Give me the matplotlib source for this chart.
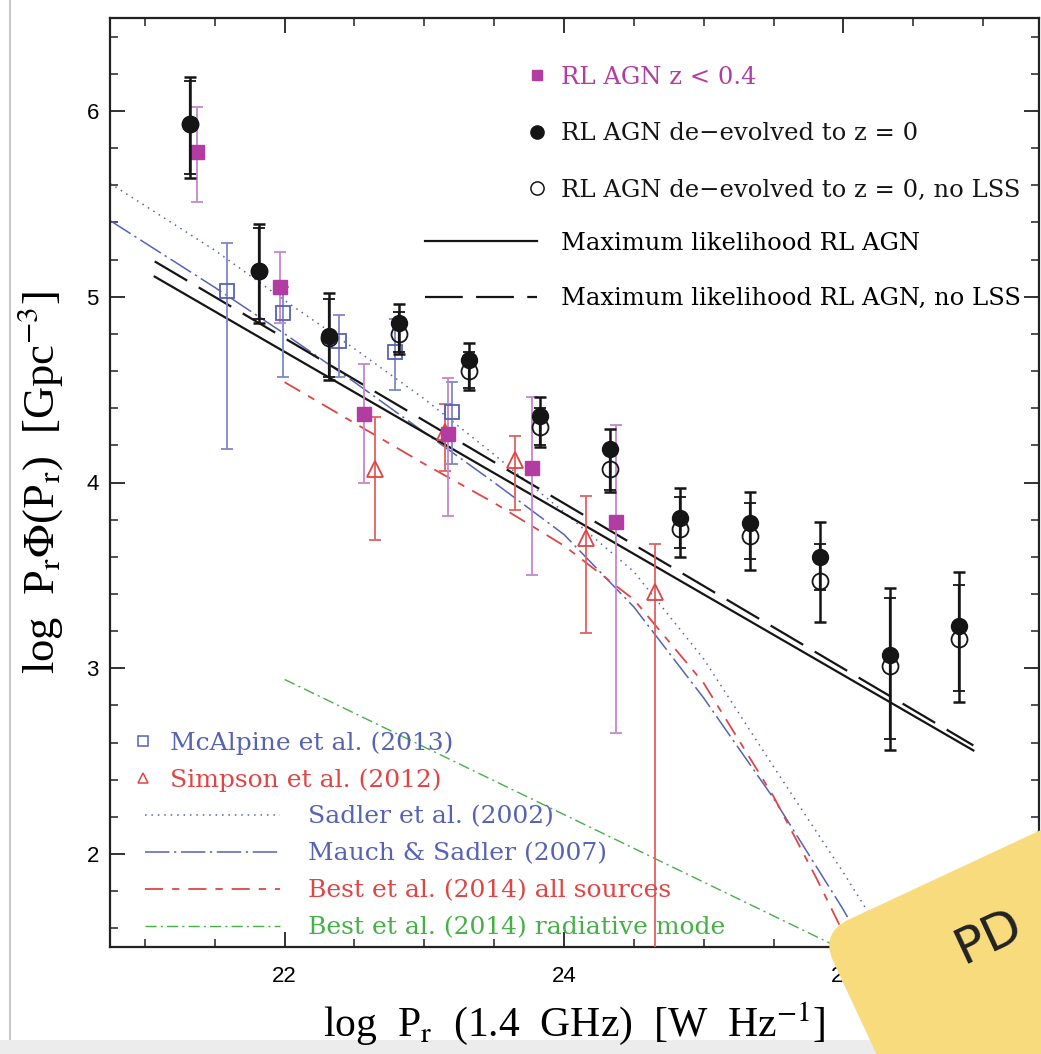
import matplotlib
matplotlib.use('Agg')
import matplotlib.pyplot as plt
import matplotlib.transforms as mtransforms
import numpy as np
from matplotlib.lines import Line2D
from matplotlib.patches import FancyBboxPatch, Rectangle
from matplotlib.ticker import MultipleLocator

plt.rcParams['mathtext.fontset'] = 'stix'

# RL AGN de-evolved to z = 0 (filled) and the no-LSS version (open)
x_rl = [21.32, 21.82, 22.32, 22.82, 23.32, 23.83, 24.33, 24.83, 25.33, 25.83, 26.33, 26.83]
y_rl = [5.93, 5.14, 4.79, 4.86, 4.66, 4.36, 4.18, 3.81, 3.78, 3.60, 3.07, 3.23]
y_rl_lo = [5.64, 4.86, 4.55, 4.69, 4.50, 4.19, 3.95, 3.60, 3.53, 3.25, 2.56, 2.82]
y_rl_hi = [6.18, 5.39, 5.02, 4.96, 4.75, 4.46, 4.29, 3.97, 3.95, 3.79, 3.43, 3.52]

y_nolss = [5.93, 5.14, 4.78, 4.80, 4.60, 4.30, 4.07, 3.75, 3.71, 3.47, 3.01, 3.16]
y_nolss_lo = [5.66, 4.88, 4.57, 4.70, 4.51, 4.20, 3.96, 3.65, 3.59, 3.42, 2.62, 2.88]
y_nolss_hi = [6.16, 5.37, 4.99, 4.92, 4.70, 4.40, 4.20, 3.92, 3.89, 3.67, 3.38, 3.45]

# RL AGN z < 0.4
x_z04 = [21.37, 21.97, 22.57, 23.17, 23.77, 24.37]
y_z04 = [5.78, 5.05, 4.37, 4.26, 4.08, 3.79]
y_z04_lo = [5.51, 4.86, 4.00, 3.82, 3.50, 2.65]
y_z04_hi = [6.02, 5.24, 4.64, 4.56, 4.46, 4.31]

# McAlpine et al. (2013)
x_mca = [21.59, 21.99, 22.39, 22.79, 23.20]
y_mca = [5.03, 4.91, 4.76, 4.70, 4.38]
y_mca_lo = [4.18, 4.57, 4.57, 4.50, 4.10]
y_mca_hi = [5.29, 5.05, 4.90, 4.88, 4.54]

# Simpson et al. (2012)
x_sim = [22.65, 23.15, 23.65, 24.16, 24.65]
y_sim = [4.07, 4.27, 4.12, 3.70, 3.41]
y_sim_lo = [3.69, 4.06, 3.85, 3.19, 1.00]
y_sim_hi = [4.35, 4.42, 4.25, 3.93, 3.67]

# model curves
x_ml = [21.07, 26.93]
y_ml = [5.108, 2.558]
y_ml_nolss = [5.19, 2.585]

x_sad = [20.75, 21.5, 22.0, 22.5, 23.0, 23.5, 24.0, 24.5, 25.0, 25.5, 26.0, 26.2, 26.35]
y_sad = [5.61, 5.25, 4.98, 4.72, 4.45, 4.15, 3.84, 3.52, 3.05, 2.47, 1.90, 1.66, 1.50]

x_mau = [20.75, 21.5, 22.0, 22.5, 23.0, 23.5, 24.0, 24.5, 25.0, 25.5, 26.0, 26.15]
y_mau = [5.41, 5.05, 4.80, 4.54, 4.27, 4.00, 3.72, 3.33, 2.84, 2.30, 1.70, 1.50]

x_best = [22.0, 22.5, 23.0, 23.5, 24.0, 24.5, 25.0, 25.5, 25.8, 26.05]
y_best = [4.54, 4.32, 4.10, 3.89, 3.66, 3.37, 2.92, 2.31, 1.88, 1.50]

x_rad = [22.0, 25.96]
y_rad = [2.94, 1.50]

c_mag = '#b23ca2'
c_mag_err = '#c587cc'
c_blue = '#5662b4'
c_blue_err = '#7f88c8'
c_red = '#e04444'
c_red_err = '#e26060'
c_green = '#45b045'
c_blk = '#151515'

W, H = 1041, 1054
fig = plt.figure(figsize=(W / 100, H / 100), dpi=100)
ax = fig.add_axes([110 / W, (H - 947) / H, 929 / W, 929 / H])

# lines
ax.plot(x_sad, y_sad, color=c_blue, lw=1.1, dashes=(1, 3.2))
ax.plot(x_mau, y_mau, color=c_blue, lw=1.1, dashes=(16, 3, 1.5, 3))
ax.plot(x_best, y_best, color=c_red, lw=1.3, dashes=(10, 5, 4, 5))
ax.plot(x_rad, y_rad, color=c_green, lw=1.0, dashes=(8, 3, 1.5, 3))
ax.plot(x_ml, y_ml, color=c_blk, lw=1.6)
ax.plot(x_ml, y_ml_nolss, color=c_blk, lw=1.6, dashes=(17, 6))

def yerr(y, lo, hi):
    y = np.array(y)
    return [y - np.array(lo), np.array(hi) - y]

ax.errorbar(x_mca, y_mca, yerr=yerr(y_mca, y_mca_lo, y_mca_hi), fmt='s', ms=10,
            mfc='none', mec=c_blue, mew=1.3, ecolor=c_blue_err, elinewidth=1.3,
            capsize=4.5, capthick=1.3, zorder=4)
ax.errorbar(x_sim, y_sim, yerr=yerr(y_sim, y_sim_lo, y_sim_hi), fmt='^', ms=11,
            mfc='none', mec=c_red, mew=1.3, ecolor=c_red_err, elinewidth=1.3,
            capsize=4.5, capthick=1.3, zorder=4)
ax.errorbar(x_z04, y_z04, yerr=yerr(y_z04, y_z04_lo, y_z04_hi), fmt='s', ms=9.5,
            mfc=c_mag, mec=c_mag, ecolor=c_mag_err, elinewidth=1.3,
            capsize=4.5, capthick=1.3, zorder=4)
ax.errorbar(x_rl, y_nolss, yerr=yerr(y_nolss, y_nolss_lo, y_nolss_hi), fmt='o', ms=11.5,
            mfc='none', mec=c_blk, mew=1.3, ecolor=c_blk, elinewidth=1.6,
            capsize=4.5, capthick=1.6, zorder=5)
ax.errorbar(x_rl, y_rl, yerr=yerr(y_rl, y_rl_lo, y_rl_hi), fmt='o', ms=11.5,
            mfc=c_blk, mec=c_blk, ecolor=c_blk, elinewidth=1.8,
            capsize=4.5, capthick=1.8, zorder=6)

ax.set_xlim(20.75, 27.4)
ax.set_ylim(1.5, 6.5)
ax.xaxis.set_major_locator(MultipleLocator(2))
ax.xaxis.set_minor_locator(MultipleLocator(0.5))
ax.yaxis.set_major_locator(MultipleLocator(1))
ax.yaxis.set_minor_locator(MultipleLocator(0.2))
ax.tick_params(which='both', direction='in', top=True, right=True, color='#222222')
ax.tick_params(which='major', length=11, width=1.3)
ax.tick_params(which='minor', length=5.5, width=1.1)
ax.tick_params(axis='x', which='major', pad=14)
ax.tick_params(axis='y', which='major', pad=8)
for lab in ax.get_xticklabels() + ax.get_yticklabels():
    lab.set_fontfamily('Liberation Sans')
    lab.set_fontsize(16)
for sp in ax.spines.values():
    sp.set_linewidth(1.6)
    sp.set_color('#222222')

ax.set_xlabel('log  P$_{\\rm r}$  (1.4  GHz)  [W  Hz$^{-1}$]', fontsize=30,
              family='Liberation Serif')
ax.xaxis.set_label_coords(0.5, -0.057)
ax.set_ylabel('log  P$_{\\rm r}$$\\Phi$(P$_{\\rm r}$)  [Gpc$^{-3}$]', fontsize=32,
              family='Liberation Serif')
ax.yaxis.set_label_coords(-0.048, 0.5)

# legends
fs_up = 17.5
fs_lo = 18
leg_font = {'family': 'DejaVu Serif', 'size': fs_up}
h_up_mark = [
    Line2D([], [], ls='none', marker='s', ms=7, mfc=c_mag, mec=c_mag),
    Line2D([], [], ls='none', marker='o', ms=9.5, mfc=c_blk, mec=c_blk),
    Line2D([], [], ls='none', marker='o', ms=9.5, mfc='none', mec=c_blk, mew=1.1),
]
lab_up_mark = ['RL AGN z < 0.4', 'RL AGN de\u2212evolved to z = 0',
               'RL AGN de\u2212evolved to z = 0, no LSS']
leg1 = ax.legend(h_up_mark, lab_up_mark, loc='upper left',
                 bbox_to_anchor=(524.8 / W, (H - 65.5) / H), bbox_transform=fig.transFigure,
                 frameon=False, prop=leg_font, handlelength=1.0, handletextpad=0.49,
                 labelspacing=1.38, borderpad=0, borderaxespad=0, numpoints=1,
                 labelcolor=[c_mag, c_blk, c_blk])
ax.add_artist(leg1)

h_up_line = [
    Line2D([], [], color=c_blk, lw=1.6),
    Line2D([], [], color=c_blk, lw=1.6, dashes=(17, 6)),
]
lab_up_line = ['Maximum likelihood RL AGN', 'Maximum likelihood RL AGN, no LSS']
leg2 = ax.legend(h_up_line, lab_up_line, loc='upper left',
                 bbox_to_anchor=(425 / W, (H - 231.5) / H), bbox_transform=fig.transFigure,
                 frameon=False, prop=leg_font, handlelength=4.61, handletextpad=0.99,
                 labelspacing=1.34, borderpad=0, borderaxespad=0)
ax.add_artist(leg2)

leg_font_lo = {'family': 'DejaVu Serif', 'size': fs_lo}
h_lo_mark = [
    Line2D([], [], ls='none', marker='s', ms=7, mfc='none', mec=c_blue, mew=1.1),
    Line2D([], [], ls='none', marker='^', ms=7.5, mfc='none', mec=c_red, mew=1.1),
]
lab_lo_mark = ['McAlpine et al. (2013)', 'Simpson et al. (2012)']
leg3 = ax.legend(h_lo_mark, lab_lo_mark, loc='upper left',
                 bbox_to_anchor=(130.5 / W, (H - 731.5) / H), bbox_transform=fig.transFigure,
                 frameon=False, prop=leg_font_lo, handlelength=1.0, handletextpad=0.58,
                 labelspacing=0.52, borderpad=0, borderaxespad=0, numpoints=1,
                 labelcolor=[c_blue, c_red])
ax.add_artist(leg3)

h_lo_line = [
    Line2D([], [], color=c_blue, lw=1.1, dashes=(1, 3.2)),
    Line2D([], [], color=c_blue, lw=1.1, dashes=(16, 3, 1.5, 3)),
    Line2D([], [], color=c_red, lw=1.3, dashes=(10, 5, 4, 5)),
    Line2D([], [], color=c_green, lw=1.0, dashes=(8, 3, 1.5, 3)),
]
lab_lo_line = ['Sadler et al. (2002)', 'Mauch & Sadler (2007)',
               'Best et al. (2014) all sources', 'Best et al. (2014) radiative mode']
leg4 = ax.legend(h_lo_line, lab_lo_line, loc='upper left',
                 bbox_to_anchor=(145 / W, (H - 805.5) / H), bbox_transform=fig.transFigure,
                 frameon=False, prop=leg_font_lo, handlelength=5.4, handletextpad=1.12,
                 labelspacing=0.56, borderpad=0, borderaxespad=0,
                 labelcolor=[c_blue, c_blue, c_red, c_green])

# screenshot frame and sticker
fig.add_artist(Line2D([10 / W, 10 / W], [14 / H, 1.0], transform=fig.transFigure,
                      color='#c8c8c8', lw=1.5, zorder=-1))
fig.add_artist(Rectangle((0, 0), 1, 14 / H, transform=fig.transFigure,
                         facecolor='#ececec', edgecolor='none', zorder=-1))
px2fig = mtransforms.Affine2D().scale(1 / W, 1 / H) + fig.transFigure
sticker = FancyBboxPatch((0, -320), 420, 320, boxstyle='round,pad=0,rounding_size=32',
                         facecolor='#f8db7c', edgecolor='none', zorder=10,
                         transform=mtransforms.Affine2D().rotate_deg(25).translate(820, 121) + px2fig)
fig.add_artist(sticker)
fig.text(963 / W, (H - 964) / H, 'PD', rotation=25, fontsize=36, color='#222222',
         family='DejaVu Sans', rotation_mode='anchor', zorder=11)

fig.savefig('out.png', dpi=100)
